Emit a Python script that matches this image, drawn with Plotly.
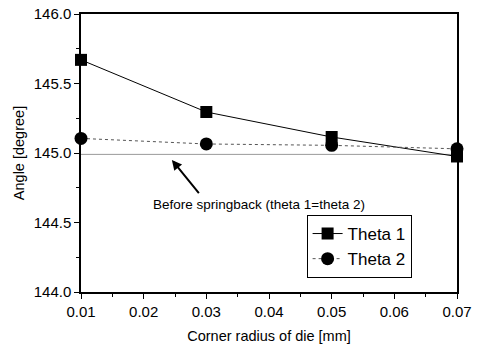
import plotly.graph_objects as go

radius = [0.01, 0.03, 0.05, 0.07]
theta1 = [145.67, 145.295, 145.115, 144.975]
theta2 = [145.105, 145.065, 145.055, 145.03]
before_springback = 144.99
x_range = [0.01, 0.07]
y_range = [144.0, 146.0]

fig = go.Figure()
fig.add_trace(go.Scatter(x=x_range, y=[before_springback] * 2, mode="lines",
                         line=dict(color="#999999", width=1), showlegend=False,
                         hoverinfo="skip"))
fig.add_trace(go.Scatter(x=radius, y=theta1, mode="lines+markers", name="Theta 1",
                         line=dict(color="black", width=1),
                         marker=dict(symbol="square", size=12, color="black"),
                         cliponaxis=False))
fig.add_trace(go.Scatter(x=radius, y=theta2, mode="lines+markers", name="Theta 2",
                         line=dict(color="#555555", width=1, dash="dot"),
                         marker=dict(symbol="circle", size=13, color="black"),
                         cliponaxis=False))

fig.add_annotation(x=0.0245, y=144.95, ax=0.029, ay=144.70, xref="x", yref="y",
                   axref="x", ayref="y", showarrow=True, arrowhead=2, arrowsize=1,
                   arrowwidth=2, arrowcolor="black", text="")
fig.add_annotation(x=0.0384, y=144.63, xref="x", yref="y", showarrow=False,
                   text="Before springback (theta 1=theta 2)",
                   font=dict(size=13.5, color="black"))

axis_common = dict(showline=True, linecolor="black", linewidth=1.5, mirror=True,
                   ticks="outside", ticklen=5, tickcolor="black", showgrid=False,
                   zeroline=False, tickfont=dict(size=15, color="black"),
                   automargin=False)
fig.update_xaxes(range=x_range, dtick=0.01, tick0=0.01, tickformat=".2f",
                 title=dict(text="Corner radius of die [mm]", font=dict(size=14.5, color="black"), standoff=12),
                 minor=dict(dtick=0.005, ticks="outside", ticklen=3, tickcolor="black"),
                 **axis_common)
fig.update_yaxes(range=y_range, dtick=0.5, tickformat=".1f",
                 title=dict(text="Angle [degree]", font=dict(size=14.5, color="black"), standoff=6),
                 minor=dict(dtick=0.25, ticks="outside", ticklen=3, tickcolor="black"),
                 **axis_common)

fig.update_layout(width=481, height=347, margin=dict(l=81, r=24, t=14, b=55),
                  plot_bgcolor="white", paper_bgcolor="white",
                  font=dict(family="Liberation Sans, Arial, sans-serif", color="black"),
                  legend=dict(x=0.60, y=0.277, xanchor="left", yanchor="top",
                              bordercolor="black", borderwidth=1, bgcolor="white",
                              font=dict(size=17), tracegroupgap=0))

fig.write_html("out.html")
